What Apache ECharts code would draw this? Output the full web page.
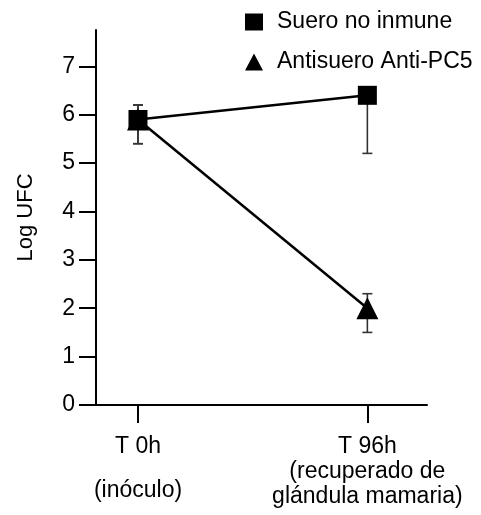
<!DOCTYPE html>
<html>
<head>
<meta charset="utf-8">
<script src="https://cdn.jsdelivr.net/npm/echarts@6/dist/echarts.min.js"></script>
<style>
  html, body { margin: 0; padding: 0; background: #fff; }
  #chart { width: 481px; height: 515px; }
</style>
</head>
<body>
<div id="chart"></div>
<script>
/* datos */
var tiempos = [0, 1];
var etiquetasX = ["{a|T 0h}\n{b|(inóculo)}", "{a|T 96h}\n{a|(recuperado de}\n{a|glándula mamaria)}"];
var ticksY = [0, 1, 2, 3, 4, 5, 6, 7];

var sueroNoInmune = [5.9, 6.4];
var sueroNoInmuneMin = [5.4, 5.2];
var sueroNoInmuneMax = [6.2, 6.4];

var antisuero = [5.9, 2.0];
var antisueroMin = [5.4, 1.5];
var antisueroMax = [6.2, 2.3];

var fuente = "Liberation Sans, Arial, sans-serif";

function puntos(valores) {
  return tiempos.map(function (t, i) { return [t, valores[i]]; });
}

function barras(minimos, maximos) {
  return tiempos.map(function (t, i) { return [t, minimos[i], maximos[i]]; });
}

/*TODO: barras de error*/
function dibujarError(params, api) {
  var bajo = api.coord([api.value(0), api.value(1)]);
  var alto = api.coord([api.value(0), api.value(2)]);
  var media = 5;
  var estilo = { stroke: "#333", lineWidth: 1.6 };
  return {
    type: "group",
    children: [
      { type: "line", shape: { x1: bajo[0], y1: bajo[1], x2: alto[0], y2: alto[1] }, style: estilo },
      { type: "line", shape: { x1: bajo[0] - media, y1: bajo[1], x2: bajo[0] + media, y2: bajo[1] }, style: estilo },
      { type: "line", shape: { x1: alto[0] - media, y1: alto[1], x2: alto[0] + media, y2: alto[1] }, style: estilo }
    ]
  };
}

var chartDom = document.getElementById("chart");
var myChart = echarts.init(chartDom);

var option = {
  animation: false,
  textStyle: { fontFamily: fuente },
  legend: {
    orient: "vertical",
    left: 240,
    top: 5,
    itemGap: 16,
    itemWidth: 18,
    itemHeight: 17,
    textStyle: { fontSize: 23, lineHeight: 24, color: "#000", fontFamily: fuente, padding: [0, 0, 0, 9] },
    data: [
      { name: "Suero no inmune", icon: "rect" },
      { name: "Antisuero Anti-PC5", icon: "triangle" }
    ]
  },
  grid: { left: 96, right: 54, top: 30, bottom: 110, outerBoundsMode: "none" },
  xAxis: {
    type: "value",
    min: -0.183,
    max: 1.26,
    splitLine: { show: false },
    axisLine: { onZero: false, lineStyle: { color: "#000", width: 2 } },
    axisTick: { length: 18, lineStyle: { color: "#000", width: 2 }, customValues: tiempos },
    axisLabel: {
      customValues: tiempos,
      margin: 29,
      color: "#000",
      formatter: function (v) { return etiquetasX[tiempos.indexOf(v)] || ""; },
      rich: {
        a: { fontSize: 23, lineHeight: 25, color: "#000", fontFamily: fuente },
        b: { fontSize: 23, lineHeight: 63, color: "#000", fontFamily: fuente }
      }
    }
  },
  yAxis: {
    type: "value",
    min: 0,
    max: 7.75,
    name: "Log UFC",
    nameLocation: "middle",
    nameGap: 59,
    nameMoveOverlap: false,
    nameTextStyle: { fontSize: 22, color: "#000", fontFamily: fuente },
    splitLine: { show: false },
    axisLine: { show: true, onZero: false, lineStyle: { color: "#000", width: 2 } },
    axisTick: { show: true, length: 17, lineStyle: { color: "#000", width: 2 }, customValues: ticksY },
    axisLabel: { customValues: ticksY, margin: 21, fontSize: 23, color: "#000", fontFamily: fuente }
  },
  series: [
    {
      name: "err1",
      type: "custom",
      renderItem: dibujarError,
      data: barras(sueroNoInmuneMin, sueroNoInmuneMax),
      z: 1
    },
    {
      name: "err2",
      type: "custom",
      renderItem: dibujarError,
      data: barras(antisueroMin, antisueroMax),
      z: 1
    },
    {
      name: "Antisuero Anti-PC5",
      type: "line",
      data: puntos(antisuero),
      symbol: "triangle",
      symbolSize: 22,
      itemStyle: { color: "#000" },
      lineStyle: { color: "#000", width: 2.5 },
      z: 3
    },
    {
      name: "Suero no inmune",
      type: "line",
      data: puntos(sueroNoInmune),
      symbol: "rect",
      symbolSize: 19,
      itemStyle: { color: "#000" },
      lineStyle: { color: "#000", width: 2.5 },
      z: 4
    }
  ]
};

myChart.setOption(option);
</script>
</body>
</html>
